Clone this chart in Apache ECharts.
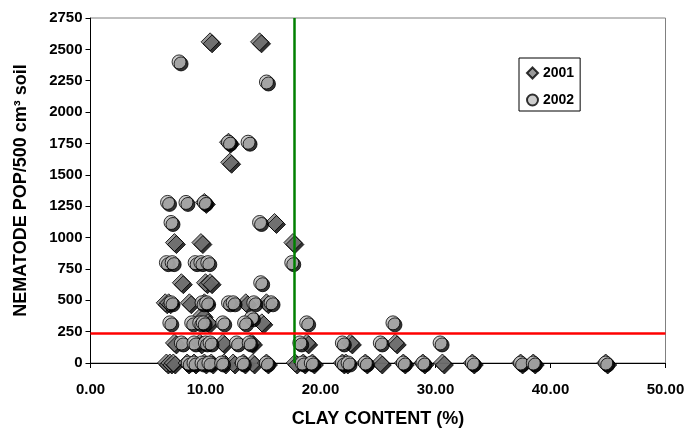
<!DOCTYPE html>
<html>
<head>
<meta charset="utf-8">
<script src="https://cdn.jsdelivr.net/npm/echarts@6/dist/echarts.min.js"></script>
<style>
  html, body { margin: 0; padding: 0; background: #fff; }
  #chart { width: 689px; height: 433px; }
</style>
</head>
<body>
<div id="chart"></div>
<script>
// clay content (%) and nematode counts, 2001
var clay2001 = [10.4, 14.7, 12.0, 12.1, 9.9, 16.0, 7.3, 9.6, 17.6, 7.9, 10.0, 10.4,
  6.5, 6.8, 8.6, 9.9, 13.5, 15.3, 9.7, 10.2, 14.9,
  7.3, 9.5, 11.5, 14.0, 18.8, 22.6, 26.5,
  6.6, 6.9, 7.2, 8.4, 9.0, 9.9, 10.5, 11.6, 12.4, 13.3, 14.1, 15.3, 17.8, 18.5, 19.3,
  21.9, 22.2, 23.9, 25.2, 27.2, 28.9, 30.6, 33.2, 37.4, 38.5, 44.8]
var pop2001 = [2560, 2560, 1760, 1600, 1280, 1120, 960, 960, 960, 640, 640, 640,
  480, 480, 480, 480, 480, 480, 380, 320, 320,
  160, 160, 160, 160, 160, 160, 160,
  0, 0, 0, 0, 0, 0, 0, 0, 0, 0, 0, 0, 0, 0, 0,
  0, 0, 0, 0, 0, 0, 0, 0, 0, 0, 0]

// 2002
var clay2002 = [7.7, 15.3, 12.0, 13.7, 6.7, 8.3, 9.9, 7.0, 14.7,
  6.6, 7.1, 9.1, 9.6, 10.2, 17.5, 14.8,
  7.0, 9.7, 10.1, 12.0, 12.4, 14.2, 15.7, 14.0,
  6.9, 8.8, 9.5, 9.8, 11.5, 13.4, 18.8, 26.3,
  7.9, 9.0, 10.0, 10.4, 12.7, 13.8, 18.2, 21.9, 25.2, 30.4,
  8.5, 9.0, 9.7, 10.3, 11.4, 13.2, 15.3, 18.4, 19.2, 21.9, 22.4, 23.9, 27.2, 28.9,
  33.2, 37.4, 38.5, 44.8]
var pop2002 = [2400, 2240, 1760, 1760, 1280, 1280, 1280, 1120, 1120,
  800, 800, 800, 800, 800, 800, 640,
  480, 480, 480, 480, 480, 480, 480, 360,
  320, 320, 320, 320, 320, 320, 320, 320,
  160, 160, 160, 160, 160, 160, 160, 160, 160, 160,
  0, 0, 0, 0, 0, 0, 0, 0, 0, 0, 0, 0, 0, 0,
  0, 0, 0, 0]

var clayLimit = 17.7   // vertical threshold
var popLimit = 240     // horizontal threshold

function pairs(xs, ys) {
  return xs.map(function (x, i) { return [x, ys[i]] })
}

var font = '"Liberation Sans", Arial, sans-serif'

var chart = echarts.init(document.getElementById('chart'))

chart.setOption({
  animation: false,
  grid: {
    left: 90.5, right: 23.5, top: 18, bottom: 69.7,
    show: true, borderColor: '#808080', borderWidth: 1, backgroundColor: '#fff'
  },
  legend: {
    data: ['2001', '2002'],
    orient: 'vertical',
    left: 519, top: 58,
    padding: [8, 6, 4, 7],
    itemWidth: 11, itemHeight: 11, itemGap: 13,
    borderColor: '#000', borderWidth: 1, backgroundColor: '#fff',
    textStyle: { fontFamily: font, fontWeight: 700, fontSize: 14, lineHeight: 14, color: '#000' }
  },
  xAxis: {
    type: 'value', min: 0, max: 50, interval: 10,
    name: 'CLAY CONTENT (%)', nameLocation: 'middle', nameGap: 47,
    nameTextStyle: { fontFamily: font, fontWeight: 700, fontSize: 18, color: '#000' },
    axisLine: { show: true, onZero: false, lineStyle: { color: '#000', width: 1 } },
    axisTick: { show: true, length: 5, lineStyle: { color: '#000' } },
    axisLabel: {
      margin: 19, fontFamily: font, fontWeight: 700, fontSize: 15, color: '#000',
      formatter: function (v) { return v.toFixed(2) }
    },
    splitLine: { show: false }
  },
  yAxis: {
    type: 'value', min: 0, max: 2750, interval: 250,
    name: 'NEMATODE POP/500 cm³ soil', nameLocation: 'middle', nameGap: 60,
    nameTextStyle: { fontFamily: font, fontWeight: 700, fontSize: 18, color: '#000' },
    axisLine: { show: true, lineStyle: { color: '#000', width: 1 } },
    axisTick: { show: true, length: 5, lineStyle: { color: '#000' } },
    axisLabel: {
      margin: 8, fontFamily: font, fontWeight: 700, fontSize: 15, color: '#000',
      formatter: function (v) { return String(v) }
    },
    splitLine: { show: false }
  },
  series: [
    {
      name: '2001', type: 'scatter', symbol: 'diamond', symbolSize: 18, clip: false,
      itemStyle: {
        color: '#808080', borderColor: '#000', borderWidth: 1,
        shadowColor: '#000', shadowOffsetX: 2, shadowOffsetY: 2, shadowBlur: 0
      },
      data: pairs(clay2001, pop2001)
    },
    {
      name: '2002', type: 'scatter', symbol: 'circle', symbolSize: 14, clip: false,
      itemStyle: {
        color: '#c0c0c0', borderColor: '#000', borderWidth: 1,
        shadowColor: '#000', shadowOffsetX: 2, shadowOffsetY: 2, shadowBlur: 0
      },
      data: pairs(clay2002, pop2002)
    },
    {
      name: 'limits', type: 'scatter', data: [], z: 5,
      markLine: {
        silent: true, symbol: 'none', label: { show: false },
        data: [
          { xAxis: clayLimit, lineStyle: { color: '#008000', width: 2.5, type: 'solid' } },
          { yAxis: popLimit, lineStyle: { color: '#ff0000', width: 2.5, type: 'solid' } }
        ]
      }
    }
  ]
})
</script>
</body>
</html>
